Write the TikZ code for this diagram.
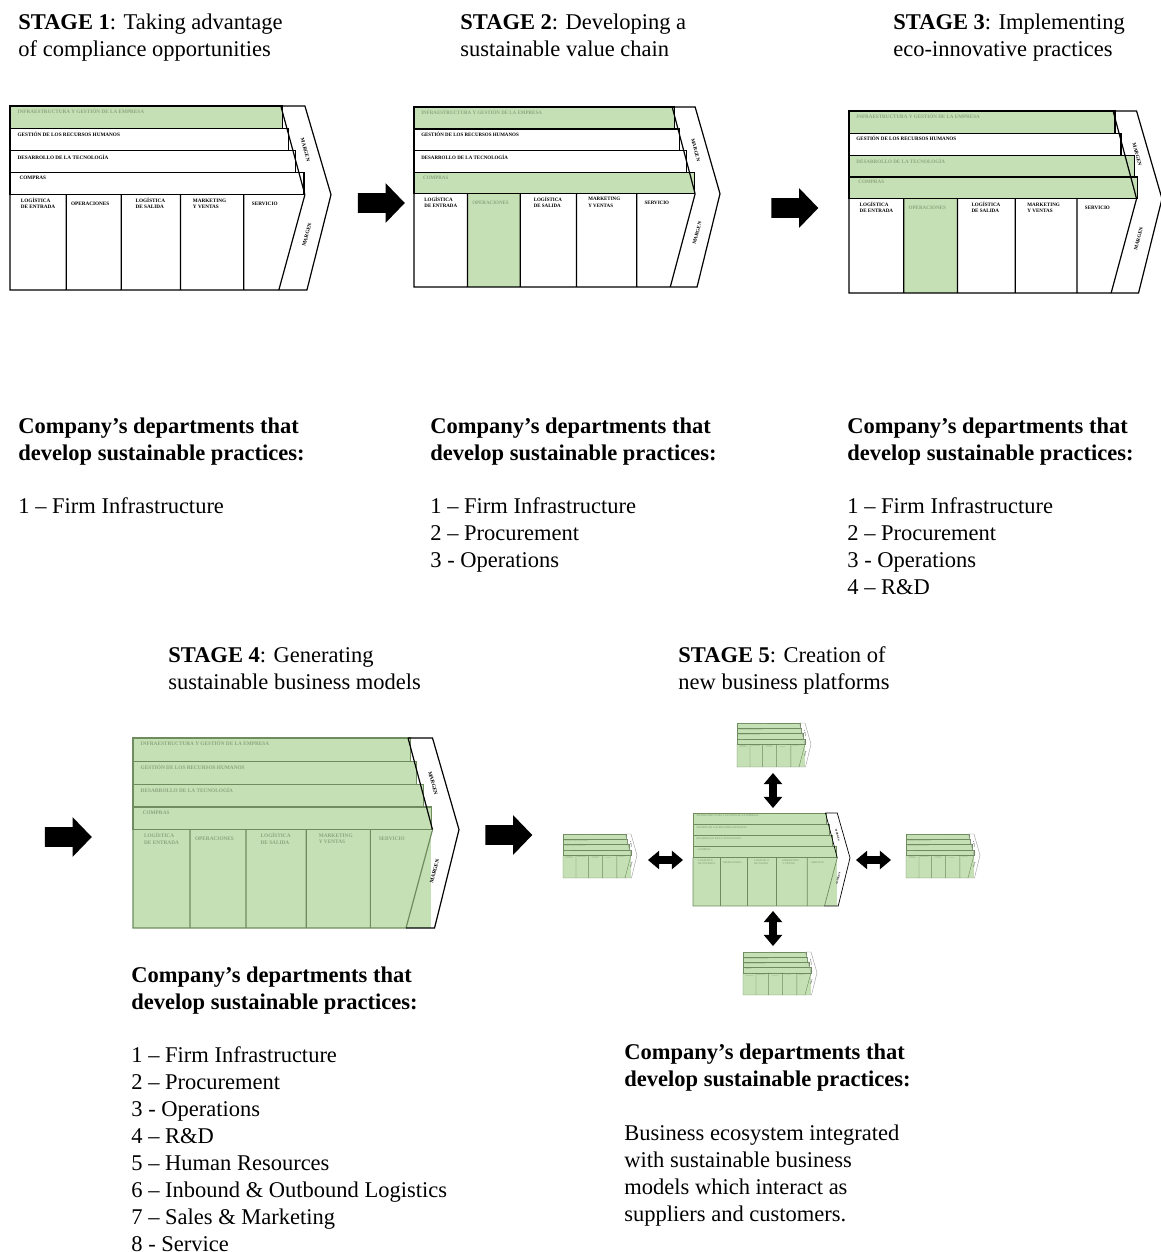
\documentclass[tikz,border=0pt]{standalone}
\usepackage{fontspec}
\setmainfont{Liberation Serif}
\usetikzlibrary{shapes.arrows}

\definecolor{vcgreen}{HTML}{C5E0B4}
\definecolor{vcfade}{HTML}{8DA57F}
\definecolor{vcolive}{HTML}{6E8C5E}
\definecolor{vcgrey}{HTML}{9A9A9A}

% which parts of a value chain are highlighted, and how it is inked
\pgfkeys{/vc/.cd,
  infra/.code={\def\vcFA{vcgreen}\def\vcTA{vcfade}},
  hr/.code={\def\vcFB{vcgreen}\def\vcTB{vcfade}},
  tech/.code={\def\vcFC{vcgreen}\def\vcTC{vcfade}},
  buy/.code={\def\vcFD{vcgreen}\def\vcTD{vcfade}},
  ops/.code={\def\vcFO{vcgreen}\def\vcTO{vcfade}},
  primary/.code={\def\vcFP{vcgreen}\def\vcTP{vcfade}\def\vcFO{vcgreen}\def\vcTO{vcfade}},
  all/.code={\pgfkeys{/vc/infra,/vc/hr,/vc/tech,/vc/buy,/vc/primary}},
  wide/.code={\def\vcEC{292}\def\vcED{295}},
  ink/.code={\def\vcInk{#1}},
  edge/.code={\def\vcEdge{#1}},
  lw/.code={\def\vcLw{#1}},
}

% multi-line texts are placed by the baseline of their last line
\tikzset{
  vclabel/.style={inner sep=0pt, transform shape, align=left,
    font=\fontsize{2.6}{3.1}\selectfont\bfseries},
  txt/.style={anchor=base west, align=left, inner sep=0pt,
    font=\fontsize{11.25}{13.5}\selectfont},
  btxt/.style={txt, font=\fontsize{11.25}{13.5}\selectfont\bfseries},
  blockarrow/.style={single arrow, fill=black, draw=none, inner xsep=0pt,
    inner ysep=4.75pt, minimum height=23.5pt, single arrow head extend=5pt,
    single arrow tip angle=92},
  linkarrow/.style={double arrow, fill=black, draw=none, inner xsep=0pt,
    inner ysep=1.75pt, minimum height=17.5pt, double arrow head extend=2.75pt,
    double arrow tip angle=80},
}

% Porter value chain: #1 name, #2/#3 top-left, #4 width to the tip, #5 height, #6 keys
\newcommand\valuechain[6]{%
  \begingroup
  \def\vcFA{white}\def\vcFB{white}\def\vcFC{white}\def\vcFD{white}%
  \def\vcFO{white}\def\vcFP{white}%
  \def\vcTA{black}\def\vcTB{black}\def\vcTC{black}\def\vcTD{black}%
  \def\vcTO{black}\def\vcTP{black}%
  \def\vcEC{285}\def\vcED{293}%
  \def\vcInk{black}\def\vcEdge{black}\def\vcLw{0.6pt}%
  \pgfkeys{/vc/.cd,#6}%
  \begin{scope}[shift={(#2,#3)}, xscale=#4/320, yscale=#5/184, line width=\vcLw]
    % body of the chevron
    \fill[white] (0,0) -- (294,0) -- (320,88.7) -- (296,184) -- (0,184) -- cycle;
    % primary activities
    \fill[fill=\vcFP] (0,88.7) rectangle (293,184);
    \fill[fill=\vcFO] (56,88.7) rectangle (111,184);
    % support activities
    \filldraw[fill=\vcFA, draw=\vcInk] (0,0) rectangle (272,22.5);
    \filldraw[fill=\vcFB, draw=\vcInk] (0,22.5) rectangle (278,44.7);
    \filldraw[fill=\vcFC, draw=\vcInk] (0,44.7) rectangle (\vcEC,66.8);
    \filldraw[fill=\vcFD, draw=\vcInk] (0,66.8) rectangle (\vcED,88.7);
    % primary grid
    \draw[draw=\vcInk] (0,88.7) -- (0,184) -- (268,184)
      (56,88.7) -- (56,184) (111,88.7) -- (111,184)
      (170,88.7) -- (170,184) (233,88.7) -- (233,184)
      (294,88.7) -- (268,184);
    % margin band
    \draw[draw=\vcEdge] (270,0) -- (294,88.7);
    \draw[draw=\vcEdge, line join=miter] (270,0) -- (294,0) -- (320,88.7) -- (296,184) -- (268,184);
    % labels
    \node[vclabel, text=\vcTA, anchor=west] (#1-infra) at (7,5) {INFRAESTRUCTURA Y GESTIÓN DE LA EMPRESA};
    \node[vclabel, text=\vcTB, anchor=west] (#1-hr) at (7,28) {GESTIÓN DE LOS RECURSOS HUMANOS};
    \node[vclabel, text=\vcTC, anchor=west] (#1-tech) at (7,51) {DESARROLLO DE LA TECNOLOGÍA};
    \node[vclabel, text=\vcTD, anchor=west] (#1-buy) at (9,72) {COMPRAS};
    \node[vclabel, text=\vcTP] (#1-inb) at (28,97.5) {LOGÍSTICA\\DE ENTRADA};
    \node[vclabel, text=\vcTO] (#1-ops) at (80,97.5) {OPERACIONES};
    \node[vclabel, text=\vcTP] (#1-outb) at (140,97.5) {LOGÍSTICA\\DE SALIDA};
    \node[vclabel, text=\vcTP] (#1-mkt) at (199,97.5) {MARKETING\\Y VENTAS};
    \node[vclabel, text=\vcTP] (#1-srv) at (254,97.5) {SERVICIO};
    \node[vclabel, rotate=-75] (#1-m1) at (294.5,44) {MARGEN};
    \node[vclabel, rotate=75] (#1-m2) at (296,129) {MARGEN};
  \end{scope}
  \endgroup}

\begin{document}
\begin{tikzpicture}[x=0.5pt, y=-0.5pt]
  \useasboundingbox (0,0) rectangle (1161,1252);
  \fill[white] (0,0) rectangle (1161,1252);

  % ---------- stages 1 to 3 ----------
  \node[txt] (h1) at (18,57) {\textbf{STAGE 1}: Taking advantage\\of compliance opportunities};
  \node[txt] (h2) at (460,57) {\textbf{STAGE 2}: Developing a\\sustainable value chain};
  \node[txt] (h3) at (893,57) {\textbf{STAGE 3}: Implementing\\eco-innovative practices};

  \valuechain{s1}{10}{106}{321}{184}{infra}
  \valuechain{s2}{414}{107}{306}{180}{infra,buy,ops}
  \valuechain{s3}{849}{111}{313}{182}{infra,tech,buy,ops,wide}

  \node[blockarrow] (a12) at (376.5,203) {};
  \node[blockarrow] (a23) at (790,208) {};

  \node[btxt] (d1) at (18,460) {Company’s departments that\\develop sustainable practices:};
  \node[txt] (l1) at (18,513) {1 – Firm Infrastructure};

  \node[btxt] (d2) at (430,460) {Company’s departments that\\develop sustainable practices:};
  \node[txt] (l2) at (430,567) {1 – Firm Infrastructure\\2 – Procurement\\3 - Operations};

  \node[btxt] (d3) at (847,460) {Company’s departments that\\develop sustainable practices:};
  \node[txt] (l3) at (847,594) {1 – Firm Infrastructure\\2 – Procurement\\3 - Operations\\4 – R\&D};

  % ---------- stage 4 ----------
  \node[txt] (h4) at (168,689) {\textbf{STAGE 4}: Generating\\sustainable business models};
  \node[blockarrow] (a34) at (63.5,837) {};
  \valuechain{s4}{133}{738}{326}{190}{all,ink=vcolive}
  \node[blockarrow] (a45) at (504,835) {};

  \node[btxt] (d4) at (131,1009) {Company’s departments that\\develop sustainable practices:};
  \node[txt] (l4) at (131,1251) {1 – Firm Infrastructure\\2 – Procurement\\3 - Operations\\4 – R\&D\\5 – Human Resources\\6 – Inbound \& Outbound Logistics\\7 – Sales \& Marketing\\8 - Service};

  % ---------- stage 5 ----------
  \node[txt] (h5) at (678,689) {\textbf{STAGE 5}: Creation of\\new business platforms};
  \valuechain{c}{693}{813}{157}{93}{all,ink=vcolive,lw=0.35pt}
  \valuechain{t}{737}{723}{74}{44}{all,ink=vcolive,edge=vcgrey,lw=0.2pt}
  \valuechain{l}{563}{834}{74}{44}{all,ink=vcolive,edge=vcgrey,lw=0.2pt}
  \valuechain{r}{906}{834}{74}{44}{all,ink=vcolive,edge=vcgrey,lw=0.2pt}
  \valuechain{b}{743}{952}{74}{43}{all,ink=vcolive,edge=vcgrey,lw=0.2pt}

  \node[linkarrow, rotate=90] (kt) at (773,790.5) {};
  \node[linkarrow, rotate=90] (kb) at (773,928.5) {};
  \node[linkarrow] (kl) at (665.5,860) {};
  \node[linkarrow] (kr) at (873.5,860) {};

  \node[btxt] (d5) at (624,1086) {Company’s departments that\\develop sustainable practices:};
  \node[txt] (l5) at (624,1221) {Business ecosystem integrated\\with sustainable business\\models which interact as\\suppliers and customers.};
\end{tikzpicture}
\end{document}
